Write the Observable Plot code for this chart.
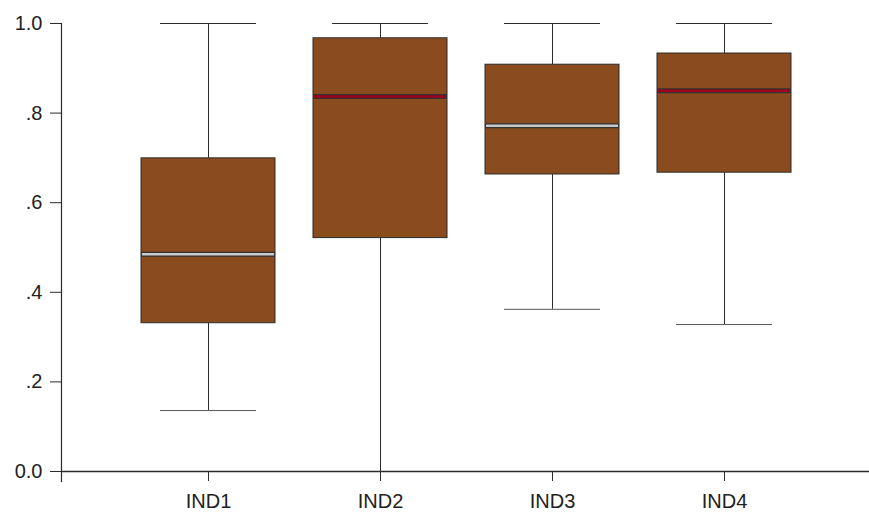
<!DOCTYPE html>
<html>
<head>
<meta charset="utf-8">
<script src="https://cdn.jsdelivr.net/npm/d3@7"></script>
<script src="https://cdn.jsdelivr.net/npm/@observablehq/plot@0.6"></script>
<style>
  html, body { margin: 0; padding: 0; background: #fff; }
  #chart svg { display: block; }
</style>
</head>
<body>
<div id="chart"></div>
<script>
const categories = ["IND1", "IND2", "IND3", "IND4"];
const mins    = [0.136, 0.000, 0.362, 0.328];
const q1s     = [0.331, 0.521, 0.663, 0.667];
const medians = [0.485, 0.837, 0.772, 0.850];
const q3s     = [0.699, 0.967, 0.908, 0.933];
const maxs    = [1.000, 1.000, 1.000, 1.000];
const medianColors = ["#c9c9cc", "#a0001e", "#c9c9cc", "#a0001e"];
const yTicks = [0, 0.2, 0.4, 0.6, 0.8, 1.0];
const yTickLabels = ["0.0", ".2", ".4", ".6", ".8", "1.0"];

const data = categories.map((c, i) => ({
  cat: c, min: mins[i], q1: q1s[i], median: medians[i], q3: q3s[i], max: maxs[i], mc: medianColors[i]
}));

const dark = "#2b2b2b";
const boxFill = "#8a4b1e";

const chart = Plot.plot({
  width: 869,
  height: 514,
  marginLeft: 61,
  marginRight: 0,
  marginTop: 23,
  marginBottom: 43,
  style: { fontFamily: "Liberation Sans, Arial, sans-serif", fontSize: "20px", color: "#222", background: "#fff" },
  x: { domain: categories, range: [140, 792], paddingInner: 0.22, paddingOuter: 0, label: null },
  y: { domain: [0, 1], label: null },
  marks: [
    // whiskers
    Plot.ruleX(data, { x: "cat", y1: "q3", y2: "max", stroke: dark, strokeWidth: 1 }),
    Plot.ruleX(data, { x: "cat", y1: "min", y2: "q1", stroke: dark, strokeWidth: 1 }),
    // caps
    Plot.tickY(data, { x: "cat", y: "max", stroke: dark, strokeWidth: 1, inset: 19 }),
    Plot.tickY(data, { x: "cat", y: "min", stroke: "#555", strokeWidth: 1, inset: 19 }),
    // boxes
    Plot.barY(data, { x: "cat", y1: "q1", y2: "q3", fill: boxFill, stroke: dark, strokeWidth: 1 }),
    // medians
    Plot.tickY(data, { x: "cat", y: "median", stroke: "#333", strokeWidth: 5 }),
    Plot.tickY(data, { x: "cat", y: "median", stroke: "mc", strokeWidth: 2.5, insetLeft: 1, insetRight: 1 }),
    // axes
    Plot.axisY({ ticks: yTicks, tickFormat: (d) => yTickLabels[yTicks.indexOf(d)], tickSize: 11, tickPadding: 8, stroke: dark, fontSize: 20 }),
    Plot.axisX({ tickSize: 10, tickPadding: 12, stroke: dark, fontSize: 20 }),
    Plot.frame({ anchor: "left", stroke: dark, strokeWidth: 1.2, insetBottom: -10 }),
    Plot.ruleY([0], { stroke: dark, strokeWidth: 1.6 })
  ]
});
document.getElementById("chart").appendChild(chart);
</script>
</body>
</html>
